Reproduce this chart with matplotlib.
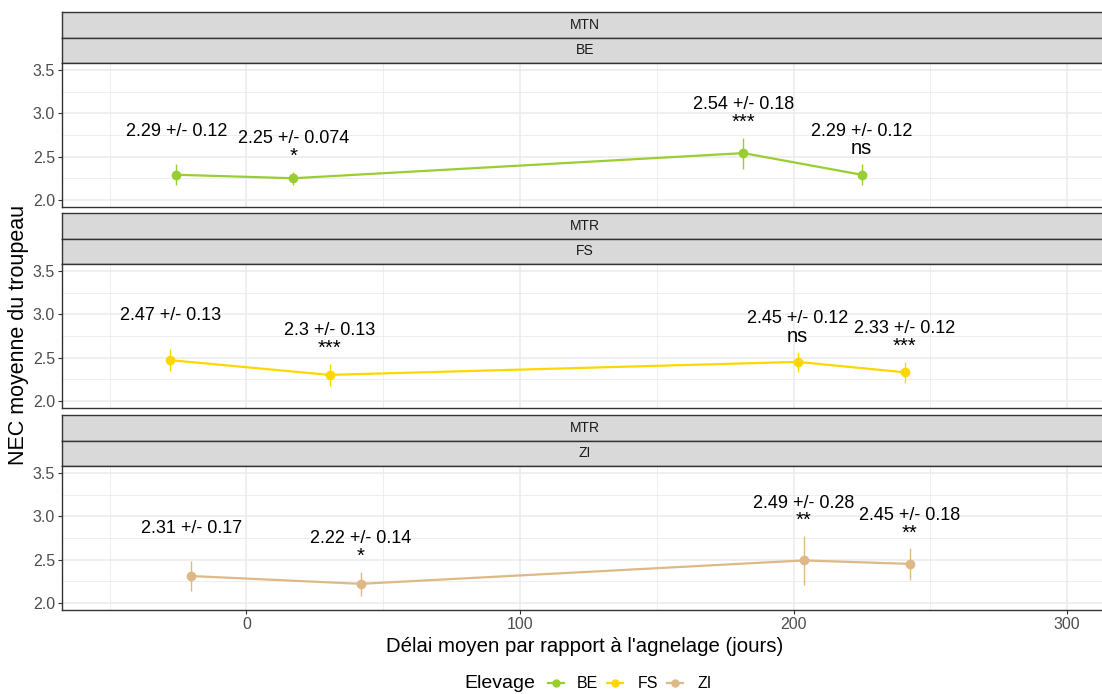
import matplotlib
matplotlib.use("Agg")
import matplotlib.pyplot as plt
from matplotlib.lines import Line2D

plt.rcParams['font.family'] = ['Liberation Sans', 'DejaVu Sans']

# ---- data ----
farms = ["BE", "FS", "ZI"]
regions = ["MTN", "MTR", "MTR"]
colors = {"BE": "#9ACD32", "FS": "#FFD700", "ZI": "#DEB887"}

x_BE = [-25.6, 17.2, 181.7, 224.9]
mean_BE = [2.29, 2.25, 2.54, 2.29]
se_BE = [0.12, 0.074, 0.18, 0.12]
sig_BE = ["", "*", "***", "ns"]

x_FS = [-27.8, 30.4, 201.5, 240.7]
mean_FS = [2.47, 2.30, 2.45, 2.33]
se_FS = [0.13, 0.13, 0.12, 0.12]
sig_FS = ["", "***", "ns", "***"]

x_ZI = [-20.1, 41.8, 203.7, 242.5]
mean_ZI = [2.31, 2.22, 2.49, 2.45]
se_ZI = [0.17, 0.14, 0.28, 0.18]
sig_ZI = ["", "*", "**", "**"]

xs = {"BE": x_BE, "FS": x_FS, "ZI": x_ZI}
means = {"BE": mean_BE, "FS": mean_FS, "ZI": mean_ZI}
ses = {"BE": se_BE, "FS": se_FS, "ZI": se_ZI}
sigs = {"BE": sig_BE, "FS": sig_FS, "ZI": sig_ZI}

x_ticks = [0, 100, 200, 300]
x_minor = [-50, 50, 150, 250]
y_ticks = [2.0, 2.5, 3.0, 3.5]
y_minor = [2.25, 2.75, 3.25]

# ---- layout (pixels) ----
W, H = 1102, 694
fig = plt.figure(figsize=(W / 100, H / 100), dpi=100)

def rect(x0, y0, x1, y1):
    return [x0 / W, 1 - y1 / H, (x1 - x0) / W, (y1 - y0) / H]

left, right = 62, 1106
panel_tops = [12, 213, 415]
strip_h = 25.5
panel_h = 144

grid_c = "#EBEBEB"
frame_c = "#333333"

for i, farm in enumerate(farms):
    top = panel_tops[i]
    # strips
    for j, lab in enumerate([regions[i], farm]):
        sax = fig.add_axes(rect(left, top + j * strip_h, right, top + (j + 1) * strip_h))
        sax.set_facecolor("#D9D9D9")
        sax.set_xticks([]); sax.set_yticks([])
        for sp in sax.spines.values():
            sp.set_color(frame_c); sp.set_linewidth(1.0)
        sax.text((585 - left) / (right - left), 0.5, lab, transform=sax.transAxes,
                 ha="center", va="center", fontsize=10, color="#1A1A1A")
    ptop = top + 2 * strip_h
    ax = fig.add_axes(rect(left, ptop, right, ptop + panel_h))
    ax.set_xlim(-67.4, 314.2)
    ax.set_ylim(1.918, 3.58)
    ax.set_xticks(x_ticks)
    ax.set_xticks(x_minor, minor=True)
    ax.set_yticks(y_ticks)
    ax.set_yticks(y_minor, minor=True)
    ax.set_yticklabels([f"{v:.1f}" for v in y_ticks])
    ax.grid(which="major", color=grid_c, linewidth=1.1)
    ax.grid(which="minor", color=grid_c, linewidth=0.6)
    ax.set_axisbelow(True)
    for sp in ax.spines.values():
        sp.set_color(frame_c); sp.set_linewidth(1.0)
    ax.tick_params(axis="y", which="major", length=3, color=frame_c,
                   labelsize=11.5, labelcolor="#4D4D4D", pad=2)
    ax.tick_params(which="minor", length=0)
    if i < 2:
        ax.tick_params(axis="x", which="major", length=0, labelbottom=False)
    else:
        ax.tick_params(axis="x", which="major", length=3, color=frame_c,
                       labelsize=11.5, labelcolor="#4D4D4D", pad=2)
    c = colors[farm]
    x, m, s, sg = xs[farm], means[farm], ses[farm], sigs[farm]
    ax.plot(x, m, color=c, linewidth=1.6, zorder=3)
    ax.errorbar(x, m, yerr=s, fmt="o", color=c, ecolor=c, elinewidth=1.0,
                markersize=6, capsize=0, zorder=4)
    for xi, mi, si, gi in zip(x, m, s, sg):
        ax.text(xi, mi + si + 0.38, f"{mi:g} +/- {si:g}", ha="center", va="center",
                fontsize=13, color="black", zorder=5)
        if gi:
            ax.text(xi, mi + si + 0.115, gi, ha="center", va="baseline",
                    fontsize=14.5, color="black", zorder=5)

# axis titles
fig.text(585 / W, 1 - 647 / H, "Délai moyen par rapport à l'agnelage (jours)",
         ha="center", va="center", fontsize=14.7, color="black")
fig.text(19 / W, 1 - 335 / H, "NEC moyenne du troupeau", ha="center", va="center",
         rotation=90, fontsize=15.5, color="black")

# legend (manual)
ly = 1 - 683 / H
fig.text(464 / W, ly, "Elevage", ha="left", va="center", fontsize=14, color="black")
for farm, kx, tx in [("BE", 556, 577), ("FS", 615, 638), ("ZI", 675, 697)]:
    fig.add_artist(Line2D([(kx - 8) / W, (kx + 8) / W], [ly, ly], color=colors[farm],
                          linewidth=1.6, transform=fig.transFigure))
    fig.add_artist(Line2D([kx / W], [ly], marker="o", markersize=5, color=colors[farm],
                          transform=fig.transFigure))
    fig.text(tx / W, ly, farm, ha="left", va="center", fontsize=11.5, color="black")

fig.savefig("out.png", dpi=100)
